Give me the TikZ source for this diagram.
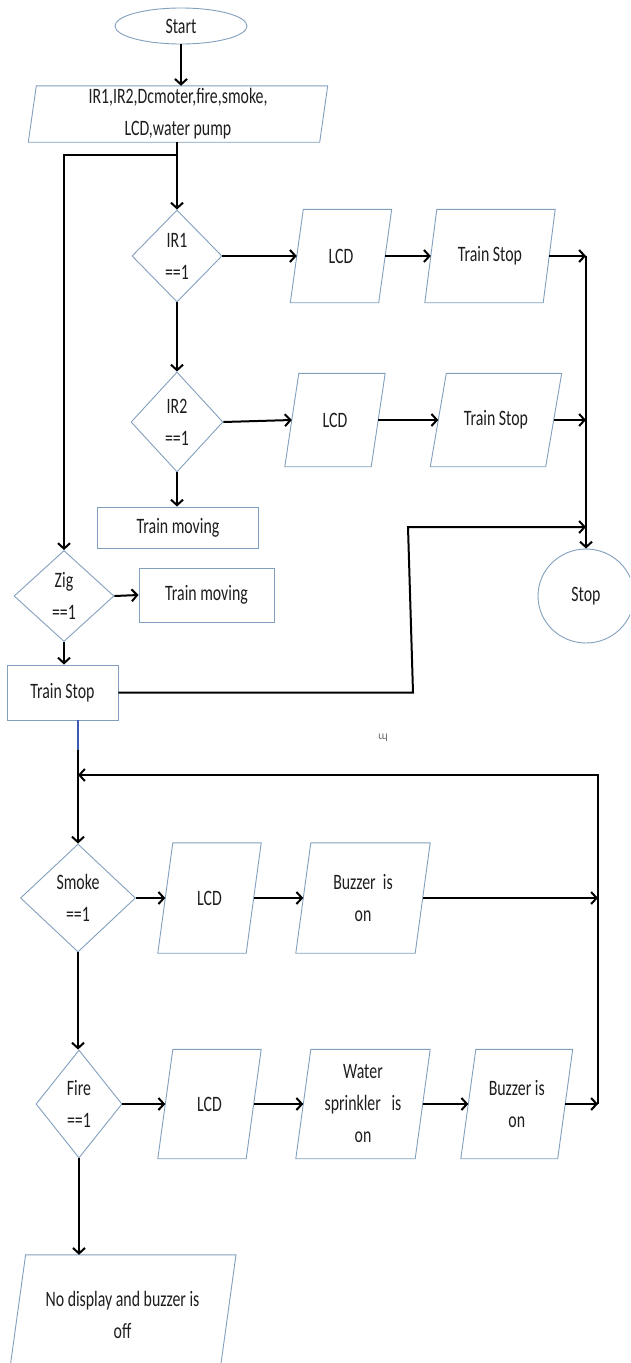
\documentclass[tikz,border=0pt]{standalone}
\usepackage{fontspec}
\setmainfont{Carlito}[FakeStretch=0.72]
\newfontfamily\glyphfont{DejaVu Sans}
\usetikzlibrary{arrows.meta,shapes.geometric}
\definecolor{bordc}{RGB}{130,160,190}
\definecolor{txtc}{RGB}{30,30,30}
\definecolor{bluec}{RGB}{60,90,180}
\tikzset{
  base/.style={font=\fontsize{22}{32}\selectfont, text=txtc, align=center, inner sep=0pt},
  iotext/.style={base, draw=none, rectangle},
  boxn/.style={base, draw=bordc, line width=0.9pt, rectangle},
  decn/.style={base, draw=bordc, line width=0.9pt, diamond},
  termn/.style={base, draw=bordc, line width=0.9pt, ellipse},
  pline/.style={draw=bordc, line width=0.9pt},
  arr/.style={line width=2pt, -{Straight Barb[length=5.5pt,width=12pt]}},
}
% name, x, y, width, height, half-slant, text
\newcommand{\iobox}[7]{%
  \node[iotext, minimum width=#4, minimum height=#5] (#1) at (#2,#3) {#7};
  \draw[pline] ([xshift=-#6]#1.south west) -- ([xshift=-#6]#1.south east)
     -- ([xshift=#6]#1.north east) -- ([xshift=#6]#1.north west) -- cycle;
}
\begin{document}
\begin{tikzpicture}[x=1pt,y=-1pt]
\useasboundingbox (0,0) rectangle (630,1363);
\fill[white] (0,0) rectangle (630,1363);
\clip (0,0) rectangle (630,1363);

% top part
\node[termn, minimum width=132, minimum height=36] (start) at (181,26) {Start};
\iobox{input}{178}{114}{291}{56}{4}{IR1,IR2,Dcmoter,fire,smoke,\\LCD,water pump}
\node[decn, minimum width=90, minimum height=92] (ir1) at (177,256) {IR1\\==1};
\iobox{lcd1}{341}{256}{88}{93}{6.5}{LCD}
\iobox{ts1}{490}{256}{118}{93}{6}{Train Stop}
\node[decn, minimum width=92, minimum height=100] (ir2) at (177,422) {IR2\\==1};
\iobox{lcd2}{335}{420}{86}{93}{7}{LCD}
\iobox{ts2}{496}{420}{115}{93}{8}{Train Stop}
\node[boxn, minimum width=161, minimum height=41] (tm1) at (178,527.5) {Train moving};
\node[decn, minimum width=100, minimum height=91] (zig) at (64,596) {Zig\\==1};
\node[boxn, minimum width=135, minimum height=54] (tm2) at (206.5,595) {Train moving};
\node[boxn, minimum width=111, minimum height=55] (tsz) at (62.5,692.5) {Train Stop};
\node[termn, minimum width=96, minimum height=94] (stop) at (586,596) {Stop};
\node[inner sep=0pt, text=black!60] (stray) at (383,738) {\glyphfont\fontsize{10}{10}\selectfont ɰ};

% bottom part
\node[decn, minimum width=115, minimum height=108] (smoke) at (78,898) {Smoke\\==1};
\iobox{lcd3}{209.5}{898}{88}{110}{7.5}{LCD}
\iobox{buz1}{363}{898}{119}{110}{7.5}{Buzzer\ \ is\\on}
\node[decn, minimum width=86, minimum height=108] (fire) at (79,1104) {Fire\\==1};
\iobox{lcd4}{209.5}{1104}{88}{109}{7.5}{LCD}
\iobox{water}{363}{1104}{119}{109}{7.5}{Water\\sprinkler\ \ \ is\\on}
\iobox{buz2}{516.75}{1104}{96.5}{109}{7.5}{Buzzer is\\on}
\iobox{final}{122.5}{1315}{210}{120}{8.3}{No display and buzzer is\\off}

% helper points
\coordinate (br) at (177,155);
\coordinate (jr1) at (stop.north |- ts1.east);
\coordinate (jr2) at (stop.north |- ts2.east);
\coordinate (c1) at (413,692.5);
\coordinate (c2) at (408,527);
\coordinate (c3) at (586,527);
\coordinate (bl2) at (78,750);
\coordinate (lp0) at (78,775);
\coordinate (lp1) at (598,775);
\coordinate (lp2) at (598,1104);

% connectors
\draw[arr] (start.south) -- (start.south |- input.north);
\draw[arr] (input.south -| ir1.north) -- (ir1.north);
\draw[arr] (br) -| (zig.north);
\draw[arr] (ir1.east) -- (lcd1.west);
\draw[arr] (lcd1.east) -- (ts1.west);
\draw[arr] (ts1.east) -- (jr1);
\draw[arr] (jr1) -- (stop.north);
\draw[arr] (ir1.south) -- (ir2.north);
\draw[arr] (ir2.east) -- (lcd2.west);
\draw[arr] (lcd2.east) -- (ts2.west);
\draw[arr] (ts2.east) -- (jr2);
\draw[arr] (ir2.south) -- (ir2.south |- tm1.north);
\draw[arr] (zig.east) -- (tm2.west);
\draw[arr] (zig.south) -- (zig.south |- tsz.north);
\draw[arr] (tsz.east) -- (c1) -- (c2) -- (c3);
\draw[bluec, line width=1.6pt] (tsz.south -| bl2) -- (bl2);
\draw[arr] (bl2) -- (smoke.north);
\draw[arr] (lp2) -- (lp1) -- (lp0);
\draw[arr] (smoke.east) -- (lcd3.west);
\draw[arr] (lcd3.east) -- (buz1.west);
\draw[arr] (buz1.east) -- (buz1.east -| lp1);
\draw[arr] (smoke.south) -- (smoke.south |- fire.north);
\draw[arr] (fire.east) -- (lcd4.west);
\draw[arr] (lcd4.east) -- (water.west);
\draw[arr] (water.east) -- (buz2.west);
\draw[arr] (buz2.east) -- (lp2);
\draw[arr] (fire.south) -- (fire.south |- final.north);
\end{tikzpicture}
\end{document}
